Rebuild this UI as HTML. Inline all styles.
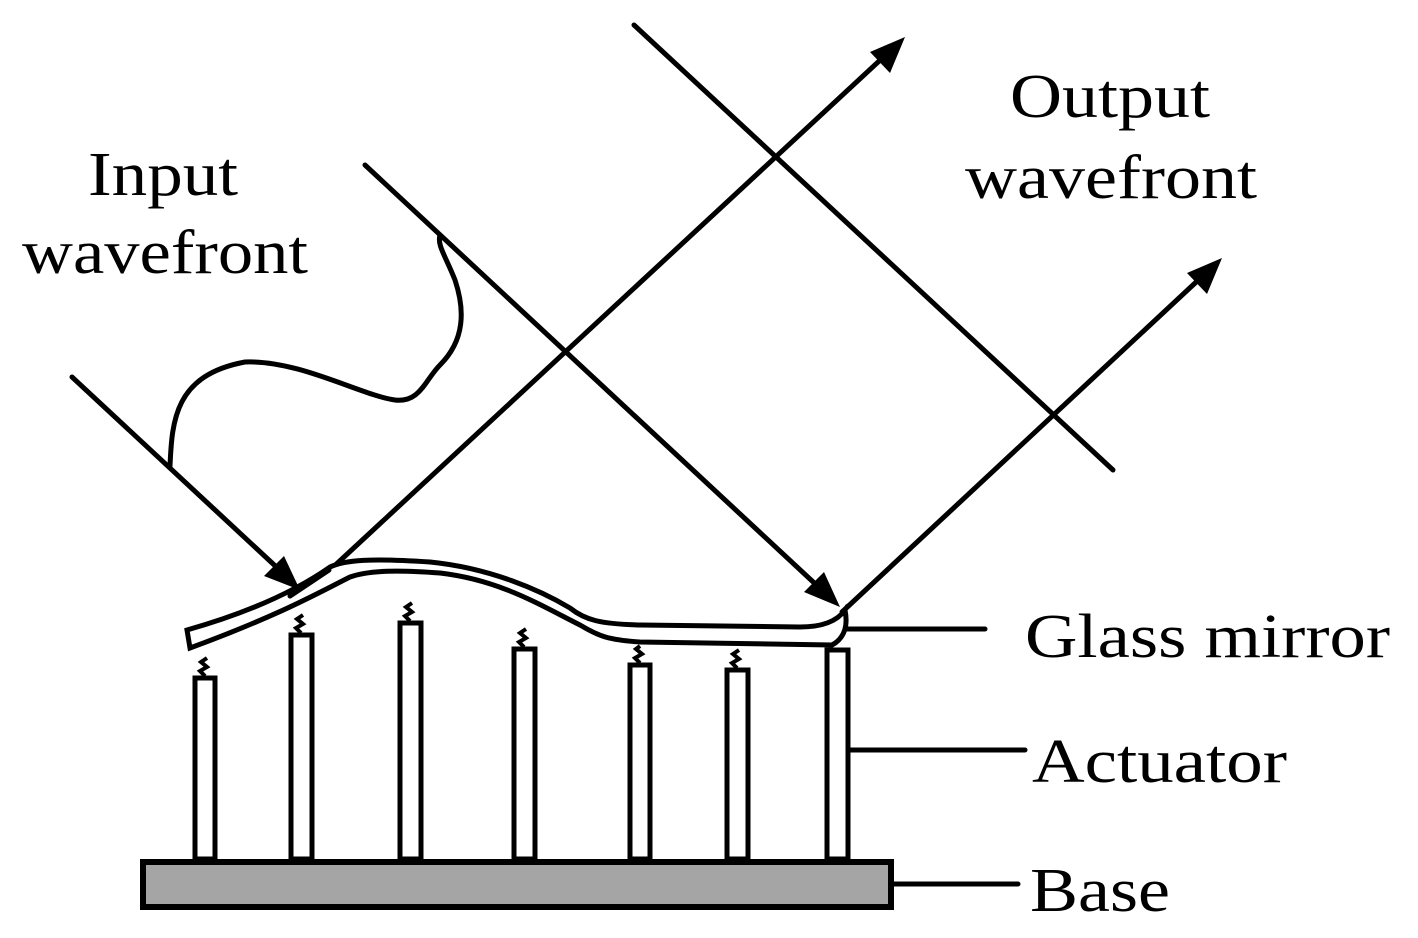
<!DOCTYPE html>
<html><head><meta charset="utf-8"><style>
html,body{margin:0;padding:0;background:#fff;}
svg{display:block;}
text{font-family:"Liberation Serif",serif;font-size:62px;fill:#000;}
</style></head><body>
<svg width="1418" height="938" viewBox="0 0 1418 938" xmlns="http://www.w3.org/2000/svg">
<g stroke="#000" stroke-width="5" fill="none" stroke-linecap="round">
<line x1="72" y1="377" x2="285" y2="575"/>
<polygon points="300,590 264,576 284,556" fill="#000" stroke="none"/>
<line x1="365" y1="165" x2="825" y2="593"/>
<polygon points="840,607 804,592 824,572" fill="#000" stroke="none"/>
<line x1="330" y1="570" x2="890" y2="51"/>
<polygon points="905,37 890,73 870,52" fill="#000" stroke="none"/>
<line x1="842" y1="612" x2="1208" y2="271"/>
<polygon points="1222,258 1207,294 1187,273" fill="#000" stroke="none"/>
<line x1="634" y1="25" x2="1113" y2="470"/>
<path d="M170,466 C172,420 175,375 245,362 C300,360 360,395 395,400 C420,403 425,380 440,365 C465,340 465,310 455,280 C445,255 437,245 440,235"/>
<path fill="#fff" d="M187,630 C240,615 290,595 330,567 C345,560 370,558 430,562 C490,568 540,590 570,608 C585,620 600,624 640,625 L800,627 C825,627 838,620 845,610 C848,625 845,638 832,645 L640,642 C610,640 600,637 580,625 C540,605 500,580 440,573 C400,570 370,570 350,577 C320,592 280,615 190,648 Z"/>
<line x1="329" y1="570" x2="290" y2="596"/>
<line x1="846" y1="629" x2="985" y2="629"/>
<line x1="850" y1="750" x2="1025" y2="750"/>
<line x1="893" y1="884" x2="1018" y2="884"/>
</g>
<g stroke="#000" stroke-width="5" fill="#fff">
<rect x="195" y="678" width="20" height="181"/>
<rect x="291" y="635" width="21" height="224"/>
<rect x="400" y="623" width="21" height="236"/>
<rect x="514" y="649" width="21" height="210"/>
<rect x="630" y="665" width="20" height="194"/>
<rect x="727" y="670" width="21" height="189"/>
<rect x="827" y="650" width="21" height="209"/>
</g>
<g stroke="#000" stroke-width="4" fill="none">
<path d="M205,676 l-5,-5 l7,-4 l-6,-5 l6,-4"/>
<path d="M301,633 l-5,-5 l7,-4 l-6,-5 l6,-4"/>
<path d="M410,621 l-5,-5 l7,-4 l-6,-5 l6,-4"/>
<path d="M524,647 l-5,-5 l7,-4 l-6,-5 l6,-4"/>
<path d="M640,663 l-5,-5 l7,-4 l-6,-5 l4,-3"/>
<path d="M737,668 l-5,-5 l7,-4 l-6,-5 l6,-4"/>
</g>
<rect x="143" y="862" width="748" height="45" fill="#a5a5a5" stroke="#000" stroke-width="6"/>
<text x="88" y="195" textLength="150" lengthAdjust="spacingAndGlyphs">Input</text>
<text x="22" y="273" textLength="286" lengthAdjust="spacingAndGlyphs">wavefront</text>
<text x="1010" y="117" textLength="200" lengthAdjust="spacingAndGlyphs">Output</text>
<text x="965" y="198" textLength="292" lengthAdjust="spacingAndGlyphs">wavefront</text>
<text x="1025" y="657" textLength="365" lengthAdjust="spacingAndGlyphs">Glass mirror</text>
<text x="1032" y="782" textLength="255" lengthAdjust="spacingAndGlyphs">Actuator</text>
<text x="1030" y="911" textLength="140" lengthAdjust="spacingAndGlyphs">Base</text>
</svg>
</body></html>
